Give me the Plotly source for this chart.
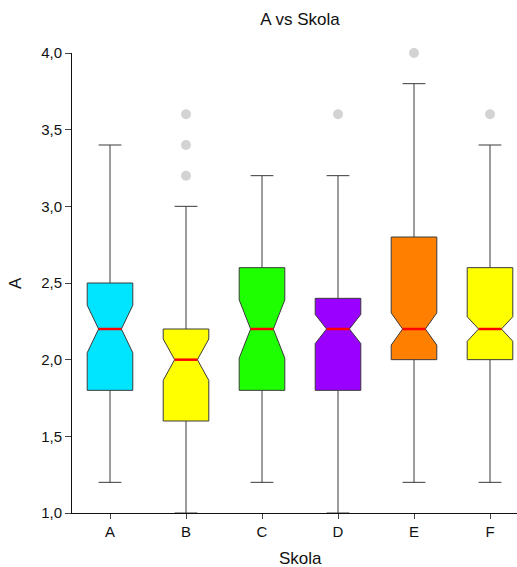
import plotly.graph_objects as go

categories = ["A", "B", "C", "D", "E", "F"]
q1 = [1.8, 1.6, 1.8, 1.8, 2.0, 2.0]
median = [2.2, 2.0, 2.2, 2.2, 2.2, 2.2]
q3 = [2.5, 2.2, 2.6, 2.4, 2.8, 2.6]
lower = [1.2, 1.0, 1.2, 1.0, 1.2, 1.2]
upper = [3.4, 3.0, 3.2, 3.2, 3.8, 3.4]
notch = [0.155, 0.135, 0.19, 0.095, 0.105, 0.08]
outlier_cat = ["B", "B", "B", "D", "E", "F"]
outlier_val = [3.2, 3.4, 3.6, 3.6, 4.0, 3.6]
colors = ["#00E5FF", "#FFFF00", "#1EFF00", "#9900FF", "#FF8000", "#FFFF00"]

y_ticks = [1.0, 1.5, 2.0, 2.5, 3.0, 3.5, 4.0]

FONT = "Liberation Sans, Arial, sans-serif"
BOX_W = 0.6
NOTCH_W = 0.25  # plotly scale (0..0.5); 0.25 -> notch half as wide as box

W, H = 517, 567
L, T, B = 72, 53, 54
PW = W - L
PH = H - T - B

fig = go.Figure()
for i, c in enumerate(categories):
    fig.add_trace(go.Box(
        x=[c], q1=[q1[i]], median=[median[i]], q3=[q3[i]],
        lowerfence=[lower[i]], upperfence=[upper[i]], notchspan=[notch[i]],
        notched=True, notchwidth=NOTCH_W, width=BOX_W, whiskerwidth=0.5,
        fillcolor=colors[i], line=dict(color="#3a3a3a", width=1),
        boxpoints=False, showlegend=False, hoverinfo="skip",
    ))

fig.add_trace(go.Scatter(
    x=outlier_cat, y=outlier_val, mode="markers",
    marker=dict(color="#D3D3D3", size=10), showlegend=False, cliponaxis=False,
    hoverinfo="skip",
))

shapes = []
for i, c in enumerate(categories):
    half = BOX_W * 0.5 / 2
    shapes.append(dict(type="line", xref="x", yref="y",
                       x0=i - half, x1=i + half, y0=median[i], y1=median[i],
                       line=dict(color="#FF0000", width=2.5)))

fig.update_layout(
    width=W, height=H,
    margin=dict(l=L, r=0, t=T, b=B, autoexpand=False),
    paper_bgcolor="white", plot_bgcolor="white",
    separators=", ",
    font=dict(family=FONT, size=15, color="#222"),
    title=dict(text="A vs Skola", x=300 / W, xref="container", xanchor="center",
               yref="container", y=1 - 19.5 / H, yanchor="middle",
               font=dict(size=17, color="#111"), automargin=False),
    boxmode="overlay",
    shapes=shapes,
    annotations=[
        dict(text="Skola", xref="paper", yref="paper",
             x=(300 - L) / PW, y=-(558.5 - (T + PH)) / PH, yanchor="middle",
             xanchor="center", showarrow=False, font=dict(size=17, color="#111")),
        dict(text="A", xref="paper", yref="paper", textangle=-90,
             x=-(L - 15) / PW, y=0.5, xanchor="center", yanchor="middle",
             showarrow=False, font=dict(size=17, color="#111")),
    ],
    xaxis=dict(type="category", categoryorder="array", categoryarray=categories,
               range=[-0.5, -0.5 + PW / 76.0], showline=True, linecolor="#111",
               linewidth=1, ticks="outside", ticklen=5, tickcolor="#444",
               showgrid=False, zeroline=False, automargin=False,
               tickfont=dict(size=15, color="#111")),
    yaxis=dict(range=[1, 4], tickvals=y_ticks, tickformat=".1f",
               showline=True, linecolor="#111", linewidth=1,
               ticks="outside", ticklen=6, tickcolor="#444", showgrid=False,
               zeroline=False, automargin=False,
               tickfont=dict(size=15, color="#111")),
)

fig.write_html("out.html", config={"displayModeBar": False},
               post_script="document.body.style.margin='0';document.body.style.overflow='hidden';")
